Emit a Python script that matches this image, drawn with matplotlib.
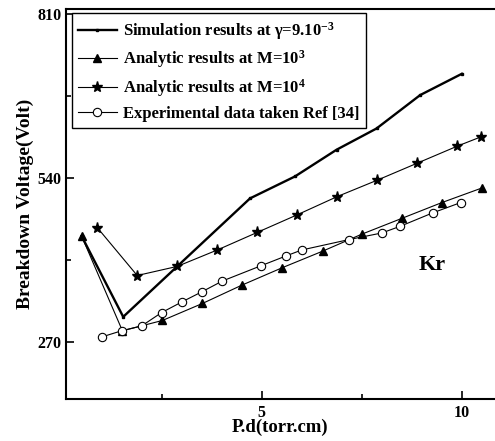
# Breakdown voltage vs P.d for Kr

import numpy as np
import matplotlib
matplotlib.use('Agg')
import matplotlib.pyplot as plt
from matplotlib.ticker import MultipleLocator

plt.rcParams['font.family'] = ['Liberation Serif', 'DejaVu Serif']
plt.rcParams['font.weight'] = 'bold'
plt.rcParams['mathtext.fontset'] = 'custom'
plt.rcParams['mathtext.rm'] = 'Liberation Serif:bold'
plt.rcParams['mathtext.default'] = 'rm'

# Simulation results at gamma = 9e-3
sim_pd = [0.5, 1.54, 4.71, 5.83, 6.87, 7.87, 8.96, 10.0]
sim_v = [444, 311, 506, 542, 586, 621, 676, 711]

# Analytic results, M = 10^3
m3_pd = [0.5, 1.52, 2.52, 3.52, 4.5, 5.52, 6.52, 7.5, 8.5, 9.5, 10.5]
m3_v = [444, 288, 305, 333, 363, 392, 419, 447, 473, 499, 523]

# Analytic results, M = 10^4
m4_pd = [0.89, 1.89, 2.89, 3.89, 4.89, 5.89, 6.89, 7.89, 8.89, 9.89, 10.47]
m4_v = [458, 379, 394, 421, 450, 479, 509, 536, 564, 592, 607]

# Experimental data, Ref [34]
exp_pd = [1.01, 1.5, 2.0, 2.5, 3.02, 3.5, 4.02, 4.98, 5.6, 6.0, 7.17, 8.0, 8.46, 9.27, 9.97]
exp_v = [278, 288, 296, 318, 336, 352, 370, 395, 411, 421, 438, 449, 460, 482, 499]

fig = plt.figure(figsize=(4.95, 4.41), dpi=100)
ax = fig.add_axes([0.1333, 0.0952, 0.8667, 0.8844])

ax.plot(sim_pd, sim_v, color='black', lw=1.7, marker='s', ms=1.5,
        label='Simulation results at γ=9.10$^{-3}$')
ax.plot(m3_pd, m3_v, color='black', lw=0.8, marker='^', ms=6,
        label='Analytic results at M=10$^{3}$')
ax.plot(m4_pd, m4_v, color='black', lw=0.8, marker='*', ms=8,
        label='Analytic results at M=10$^{4}$')
ax.plot(exp_pd, exp_v, color='black', lw=0.8, marker='o', ms=6,
        mfc='white', mec='black', mew=0.8,
        label='Experimental data taken Ref [34]')

ax.set_xlim(0.11, 10.83)
ax.set_ylim(175.7, 817.7)
ax.set_xticks([5, 10])
ax.xaxis.set_minor_locator(MultipleLocator(2.5))
ax.set_yticks([270, 540, 810])
ax.yaxis.set_minor_locator(MultipleLocator(135))
ax.tick_params(which='major', direction='in', length=6, width=1.2, labelsize=11.5, pad=4)
ax.tick_params(which='minor', direction='in', length=3.5, width=1.2)
ax.tick_params(axis='y', pad=3)

ax.spines['right'].set_visible(False)
for s in ['left', 'bottom', 'top']:
    ax.spines[s].set_linewidth(1.5)

ax.set_xlabel('P.d(torr.cm)', fontsize=13.5, fontweight='bold', labelpad=-1)
ax.set_ylabel('Breakdown Voltage(Volt)', fontsize=14, fontweight='bold', labelpad=3)

ax.text(9.25, 396, 'Kr', fontsize=16, fontweight='bold', ha='center', va='center')

leg = ax.legend(loc='upper left', bbox_to_anchor=(0.013, 0.989), borderaxespad=0,
                fancybox=False, edgecolor='black', framealpha=1,
                prop={'size': 12, 'weight': 'bold'}, handlelength=2.3,
                labelspacing=0.4, handletextpad=0.4, borderpad=0.4)
leg.get_frame().set_linewidth(1.0)

fig.savefig('out.png', dpi=100)
